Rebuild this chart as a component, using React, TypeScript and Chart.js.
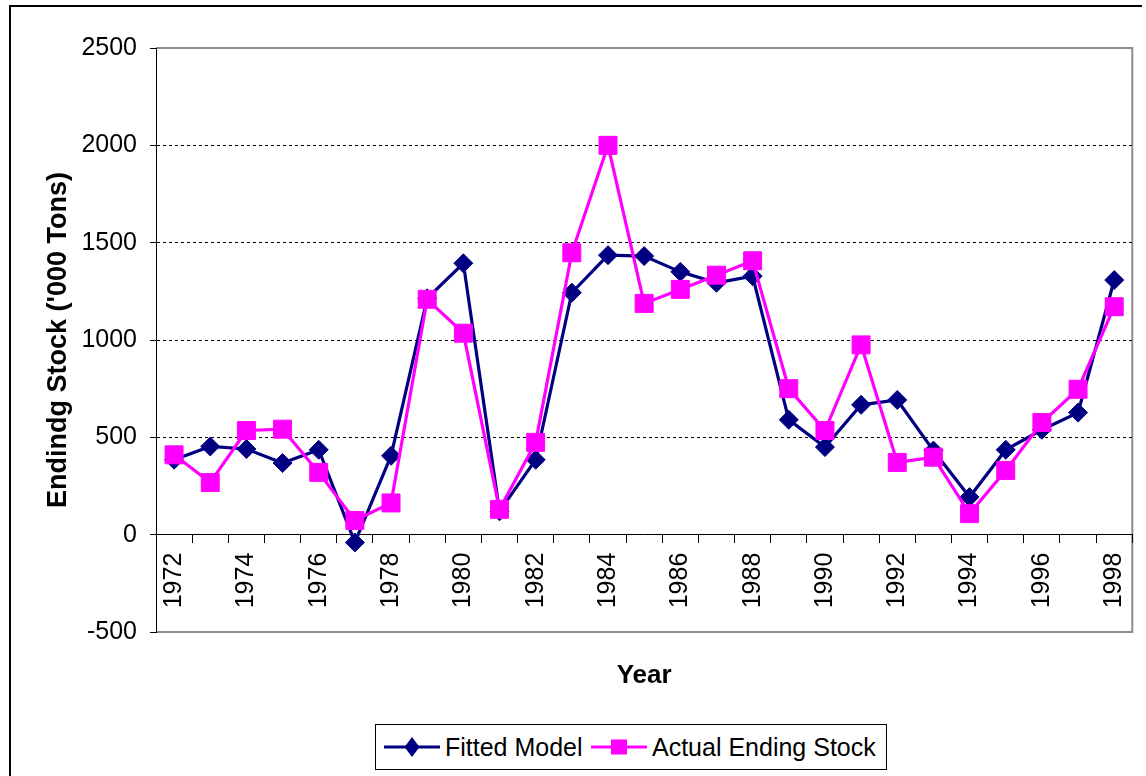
import React, { useEffect, useRef } from 'react';
import { Chart, registerables } from 'chart.js';

Chart.register(...registerables);

const years = [
  '1972', '1973', '1974', '1975', '1976', '1977', '1978', '1979', '1980', '1981',
  '1982', '1983', '1984', '1985', '1986', '1987', '1988', '1989', '1990', '1991',
  '1992', '1993', '1994', '1995', '1996', '1997', '1998',
];

const fittedModel = [
  385, 453, 440, 368, 436, -40, 405, 1214, 1394, 120,
  385, 1243, 1436, 1431, 1350, 1294, 1328, 590, 450, 667,
  692, 432, 193, 436, 539, 627, 1308,
];

const actualEndingStock = [
  410, 268, 535, 542, 320, 73, 163, 1209, 1035, 130,
  474, 1448, 2000, 1188, 1260, 1333, 1407, 750, 535, 975,
  371, 398, 108, 330, 576, 747, 1171,
];

const yTickValues = [-500, 0, 500, 1000, 1500, 2000, 2500];
const dashedGridValues = [500, 1000, 1500, 2000];

const FONT = "'Liberation Sans', Arial, sans-serif";
const NAVY = '#000080';
const MAGENTA = '#FF00FF';

const plotFrame = {
  id: 'plotFrame',
  beforeDraw(chart: any) {
    const { ctx, chartArea } = chart;
    ctx.save();
    ctx.strokeStyle = '#8c8c8c';
    ctx.lineWidth = 2;
    ctx.beginPath();
    ctx.moveTo(chartArea.left, chartArea.top);
    ctx.lineTo(chartArea.right, chartArea.top);
    ctx.lineTo(chartArea.right, chartArea.bottom);
    ctx.lineTo(chartArea.left, chartArea.bottom);
    ctx.stroke();
    ctx.restore();
  },
};

export default function App() {
  const ref = useRef<HTMLCanvasElement>(null);

  useEffect(() => {
    const chart = new Chart(ref.current as HTMLCanvasElement, {
      type: 'line',
      data: {
        labels: years,
        datasets: [
          {
            label: 'Fitted Model',
            data: fittedModel,
            borderColor: NAVY,
            backgroundColor: NAVY,
            borderWidth: 3.2,
            pointStyle: 'rectRot',
            pointRadius: 9.5,
            pointBorderWidth: 1,
            pointBorderColor: NAVY,
            pointBackgroundColor: NAVY,
            tension: 0,
            order: 1,
            xAxisID: 'x',
          },
          {
            label: 'Actual Ending Stock',
            data: actualEndingStock,
            borderColor: MAGENTA,
            backgroundColor: MAGENTA,
            borderWidth: 3.2,
            pointStyle: 'rect',
            pointRadius: 12.7,
            pointBorderWidth: 1,
            pointBorderColor: MAGENTA,
            pointBackgroundColor: MAGENTA,
            tension: 0,
            order: 0,
            xAxisID: 'x',
          },
        ],
      },
      options: {
        animation: false,
        responsive: false,
        maintainAspectRatio: false,
        devicePixelRatio: 1,
        layout: { padding: { left: 10, top: 48, right: 10, bottom: 0 } },
        plugins: {
          legend: { display: false },
          tooltip: { enabled: false },
        },
        scales: {
          x: {
            type: 'category',
            position: { y: 0 } as any,
            offset: true,
            grid: {
              display: true,
              drawOnChartArea: false,
              drawTicks: true,
              tickLength: 8,
              tickColor: '#000',
              tickWidth: 1,
              offset: true,
            },
            border: { display: true, color: '#000', width: 1 },
            ticks: {
              autoSkip: false,
              minRotation: 90,
              maxRotation: 90,
              padding: 10,
              color: '#000',
              font: { family: FONT, size: 25 },
              callback: (_v: any, i: number) => (i % 2 === 0 ? years[i] : ''),
            },
            afterFit: (s: any) => {
              s.height = 0;
              s.paddingLeft = 0;
              s.paddingRight = 0;
            },
          },
          xTitle: {
            type: 'category',
            position: 'bottom',
            grid: { display: false },
            border: { display: false },
            ticks: { display: false },
            title: {
              display: true,
              text: 'Year',
              color: '#000',
              font: { family: FONT, size: 26, weight: 'bold' },
              padding: { top: 0, bottom: 85 },
            },
            afterFit: (s: any) => {
              s.height = 144;
              s.paddingLeft = 0;
              s.paddingRight = 0;
            },
          },
          y: {
            type: 'linear',
            min: -500,
            max: 2500,
            afterBuildTicks: (s: any) => {
              s.ticks = yTickValues.map((v) => ({ value: v }));
            },
            ticks: {
              padding: 13,
              color: '#000',
              font: { family: FONT, size: 25 },
              callback: (v: any) => String(v),
            },
            grid: {
              color: (c: any) =>
                c.tick && dashedGridValues.includes(c.tick.value) ? '#000' : 'rgba(0,0,0,0)',
              lineWidth: 1,
              drawTicks: true,
              tickLength: 6,
              tickColor: '#000',
              tickWidth: 1,
              tickBorderDash: [],
            },
            border: { display: true, color: '#000', width: 1, dash: [3, 3] },
            title: {
              display: true,
              text: "Endindg Stock ('000 Tons)",
              color: '#000',
              font: { family: FONT, size: 27, weight: 'bold' },
              padding: { top: 32, bottom: 0 },
            },
            afterFit: (s: any) => {
              s.width = 146;
              s.paddingTop = 0;
              s.paddingBottom = 0;
            },
          },
        },
      },
      plugins: [plotFrame],
    } as any);
    return () => chart.destroy();
  }, []);

  const legendText: React.CSSProperties = {
    position: 'absolute',
    top: 0,
    height: 44,
    lineHeight: '44px',
    fontFamily: FONT,
    fontSize: 25,
    color: '#000',
    whiteSpace: 'nowrap',
  };

  return (
    <div
      style={{
        position: 'absolute',
        left: 0,
        top: 0,
        width: 1146,
        height: 776,
        overflow: 'hidden',
        background: '#fff',
      }}
    >
      <div
        style={{
          position: 'absolute',
          left: 9,
          top: 5,
          width: 1133,
          height: 800,
          borderTop: '2px solid #000',
          borderLeft: '2px solid #000',
          boxSizing: 'border-box',
        }}
      />
      <canvas
        ref={ref}
        width={1146}
        height={776}
        style={{ position: 'absolute', left: 0, top: 0, width: 1146, height: 776 }}
      />
      <div
        style={{
          position: 'absolute',
          left: 375,
          top: 724,
          width: 512,
          height: 46,
          border: '1px solid #000',
          boxSizing: 'border-box',
          background: '#fff',
        }}
      >
        <svg
          width={60}
          height={44}
          style={{ position: 'absolute', left: 6, top: 0 }}
        >
          <line x1={2} y1={22} x2={58} y2={22} stroke={NAVY} strokeWidth={3} />
          <polygon points="30,12 37.5,22 30,32 22.5,22" fill={NAVY} />
        </svg>
        <span style={{ ...legendText, left: 69 }}>Fitted Model</span>
        <svg
          width={60}
          height={44}
          style={{ position: 'absolute', left: 213, top: 0 }}
        >
          <line x1={2} y1={22} x2={58} y2={22} stroke={MAGENTA} strokeWidth={3} />
          <rect x={22} y={14.5} width={16} height={15} fill={MAGENTA} />
        </svg>
        <span style={{ ...legendText, left: 276 }}>Actual Ending Stock</span>
      </div>
    </div>
  );
}
